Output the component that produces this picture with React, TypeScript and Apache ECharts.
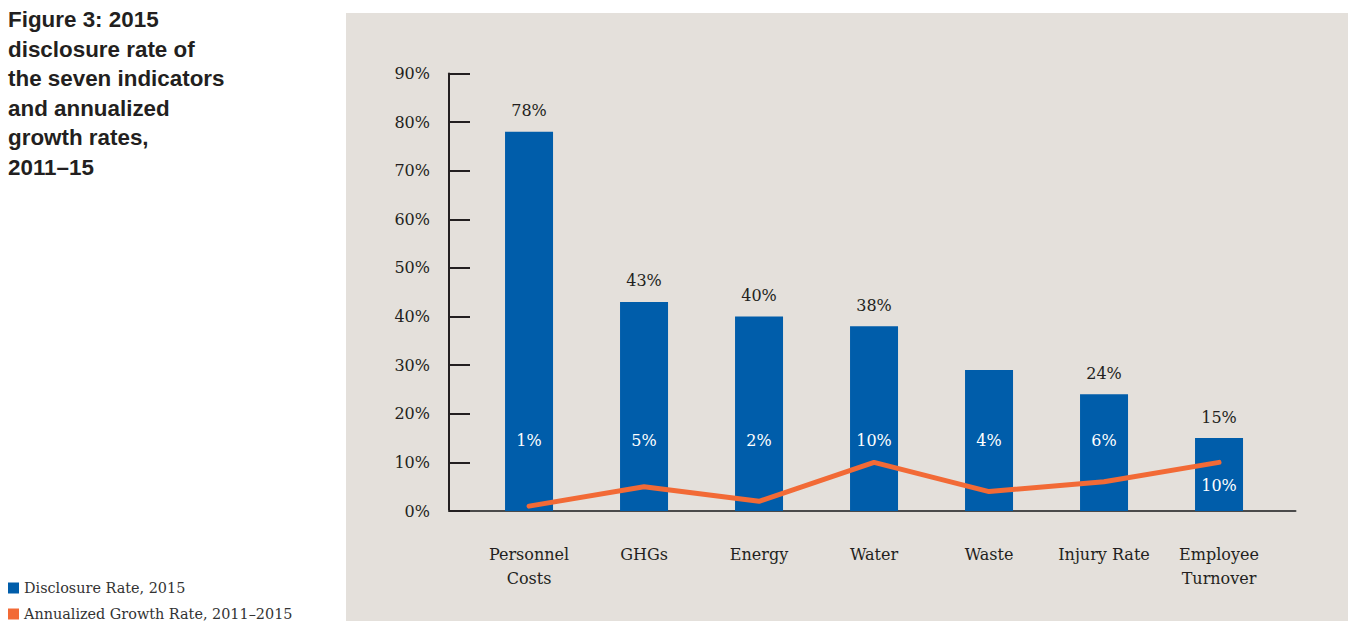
import React, { useEffect, useRef } from "react";
import * as echarts from "echarts";

// Indicators on the horizontal axis
const categories = [
  "Personnel\nCosts",
  "GHGs",
  "Energy",
  "Water",
  "Waste",
  "Injury Rate",
  "Employee\nTurnover",
];

// 2015 disclosure rate (%) per indicator
const disclosureRate = [78, 43, 40, 38, 29, 24, 15];
// whether each disclosure bar carries a value label on top
const showTopLabel = [true, true, true, true, false, true, true];

// annualized growth rate 2011–2015 (%) per indicator
const growthRate = [1, 5, 2, 10, 4, 6, 10];

// y axis tick values (%)
const yTicks = [0, 10, 20, 30, 40, 50, 60, 70, 80, 90];

const BAR_NAME = "Disclosure Rate, 2015";
const LINE_NAME = "Annualized Growth Rate, 2011–2015";

const BLUE = "#005daa";
const ORANGE = "#f26a36";
const INK = "#231f20";
const SERIF = "'DejaVu Serif', serif";

export default function App() {
  const ref = useRef<HTMLDivElement>(null);

  useEffect(() => {
    document.body.style.margin = "0";
    const chart = echarts.init(ref.current!, undefined, { renderer: "svg" });

    const idx = categories.map((_, i) => i);

    const legendBase = {
      orient: "horizontal",
      left: 8,
      padding: 0,
      icon: "rect",
      itemWidth: 11,
      itemHeight: 11,
      textStyle: { fontFamily: SERIF, fontSize: 14.4, color: "#333333" },
    };

    chart.setOption({
      animation: false,
      backgroundColor: "#ffffff",
      title: {
        text: "Figure 3: 2015\ndisclosure rate of\nthe seven indicators\nand annualized\ngrowth rates,\n2011–15",
        left: 8,
        top: 5,
        padding: 0,
        textStyle: {
          fontFamily: "'Liberation Sans', Arial, sans-serif",
          fontWeight: "bold",
          fontSize: 22.4,
          lineHeight: 29.5,
          color: INK,
        },
      },
      graphic: [
        {
          type: "rect",
          z: -10,
          silent: true,
          shape: { x: 346, y: 13, width: 1002, height: 608 },
          style: { fill: "#e4e0db" },
        },
      ],
      legend: [
        { ...legendBase, data: [BAR_NAME], top: 581 },
        { ...legendBase, data: [LINE_NAME], top: 607 },
      ],
      grid: {
        left: 449,
        top: 73.5,
        width: 846.5,
        height: 437.5,
        containLabel: false,
      },
      xAxis: {
        type: "value",
        min: -0.696,
        max: 6.665,
        splitLine: { show: false },
        axisTick: { show: false },
        axisLine: { show: true, onZero: false, lineStyle: { color: "#4a4a4a", width: 2 } },
        axisLabel: {
          customValues: idx,
          formatter: (v: number) => categories[Math.round(v)] ?? "",
          margin: 31,
          fontFamily: SERIF,
          fontSize: 16,
          lineHeight: 24,
          color: INK,
        },
      },
      yAxis: {
        type: "value",
        min: 0,
        max: 90,
        interval: 10,
        splitLine: { show: false },
        axisLine: { show: true, onZero: false, lineStyle: { color: INK, width: 2 } },
        axisTick: { show: true, inside: true, length: 21, lineStyle: { color: INK, width: 2 } },
        axisLabel: {
          customValues: yTicks,
          formatter: (v: number) => `${v}%`,
          margin: 19,
          fontFamily: SERIF,
          fontSize: 16,
          color: INK,
        },
      },
      series: [
        {
          name: BAR_NAME,
          type: "bar",
          barWidth: 48,
          itemStyle: { color: BLUE },
          data: disclosureRate.map((v, i) => ({
            value: [i, v],
            label: { show: showTopLabel[i] },
          })),
          label: {
            show: true,
            position: "top",
            distance: 13,
            formatter: (p: any) => `${p.value[1]}%`,
            fontFamily: SERIF,
            fontSize: 16,
            color: INK,
          },
          z: 2,
        },
        {
          // transparent twin of the bars, carrying the growth-rate labels inside them
          name: "growth-labels",
          type: "bar",
          barWidth: 48,
          barGap: "-100%",
          itemStyle: { color: "rgba(0,0,0,0)" },
          silent: true,
          data: disclosureRate.map((v, i) => ({
            value: [i, v],
            label: i === categories.length - 1 ? { distance: 17 } : undefined,
          })),
          label: {
            show: true,
            position: "insideBottom",
            distance: 62,
            lineHeight: 18,
            formatter: (p: any) => `${growthRate[p.dataIndex]}%`,
            fontFamily: SERIF,
            fontSize: 16,
            color: "#ffffff",
          },
          z: 3,
        },
        {
          name: LINE_NAME,
          type: "line",
          showSymbol: false,
          symbol: "none",
          itemStyle: { color: ORANGE },
          lineStyle: { color: ORANGE, width: 5, cap: "round", join: "round" },
          data: growthRate.map((v, i) => [i, v]),
          z: 4,
        },
      ],
    });

    return () => chart.dispose();
  }, []);

  return <div ref={ref} style={{ width: 1348, height: 621 }} />;
}
